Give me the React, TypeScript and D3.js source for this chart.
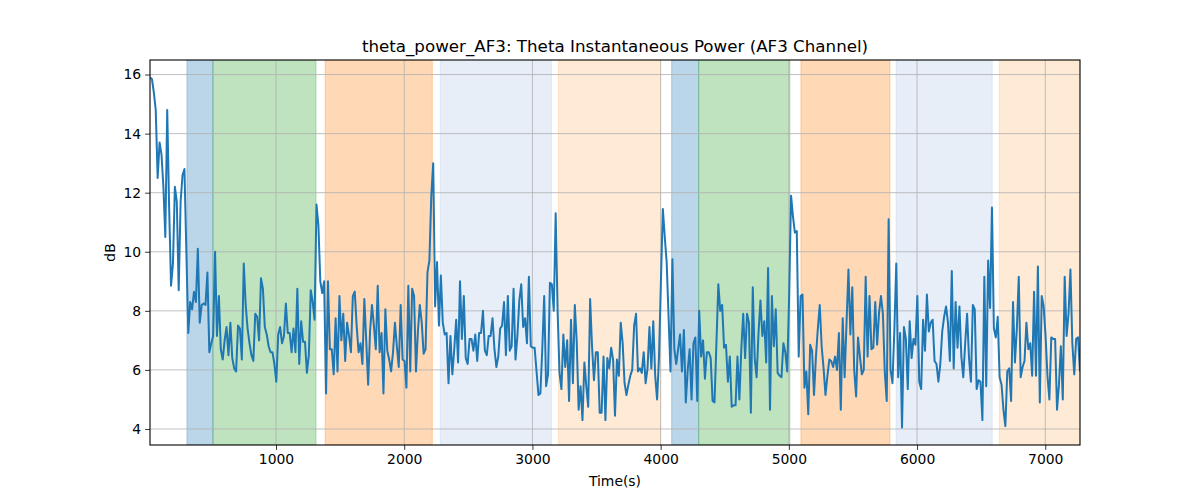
import { useEffect, useRef } from "react"
import * as d3 from "d3"

// theta power samples (dB), evenly spaced in time
const thetaPower: number[] = [
  // 0 - ~1800 s
  15.9, 15.85, 15.4, 14.8, 12.5, 13.7, 13.3, 12.2, 10.5, 14.8, 11.5, 8.85, 9.6, 12.2, 11.7, 8.7, 11.7, 12.6, 12.8, 10.0,
  7.25, 8.3, 8.05, 8.65, 8.3, 10.1, 7.6, 8.2, 8.25, 8.2, 9.3, 6.6, 6.9, 7.15, 10.0, 7.15, 8.5, 6.7, 6.35, 7.0,
  7.45, 6.5, 7.6, 6.4, 6.05, 5.95, 7.5, 7.4, 6.35, 9.6, 8.2, 7.4, 6.9, 6.5, 6.3, 7.9, 7.8, 7.0, 9.1, 8.75,
  7.45, 7.2, 6.8, 6.6, 6.6, 6.2, 5.6, 7.2, 7.45, 6.9, 7.15, 8.25, 7.25, 7.25, 6.6, 7.4, 6.6, 8.75, 6.2, 7.65,
  6.95, 6.95, 5.9, 6.5, 8.7, 8.3, 7.7, 11.6, 10.9, 9.0, 8.6, 9.0, 5.2, 9.0, 6.7, 6.7, 5.85, 7.75, 5.95, 8.5,
  7.0, 7.9, 6.3, 7.6, 7.15, 6.6, 8.5, 8.65, 7.5, 6.6, 6.9, 6.2, 8.4, 7.0, 5.5, 7.3, 8.2, 7.5, 6.7, 8.85,
  // ~1800 - 3600 s
  6.6, 7.25, 5.2, 8.05, 6.65, 6.35, 5.95, 6.6, 7.6, 6.8, 6.1, 8.2, 6.35, 6.3, 5.4, 8.85, 5.95, 8.75, 8.5, 5.95,
  7.3, 8.2, 7.6, 6.55, 6.7, 9.3, 9.7, 11.9, 13.0, 8.15, 9.65, 7.5, 9.2, 7.6, 7.2, 7.25, 5.55, 7.15, 5.85, 6.7,
  7.7, 6.25, 9.0, 7.05, 8.5, 6.4, 6.2, 7.05, 7.05, 6.65, 7.2, 6.3, 7.25, 7.25, 8.0, 6.65, 6.5, 7.15, 7.15, 7.75,
  6.7, 6.1, 6.45, 7.4, 7.5, 8.3, 6.5, 8.5, 6.65, 6.8, 8.75, 6.35, 7.15, 8.35, 8.9, 7.45, 7.75, 6.9, 9.15, 6.8,
  6.75, 6.75, 5.95, 5.15, 5.2, 6.7, 8.5, 5.45, 5.85, 8.95, 8.9, 8.0, 11.3, 8.0, 5.9, 5.35, 7.2, 6.1, 7.0, 4.95,
  7.7, 5.55, 8.2, 6.95, 4.65, 5.45, 4.3, 6.25, 5.45, 4.75, 8.4, 6.8, 5.65, 6.6, 6.6, 4.55, 4.55, 6.45, 4.3, 6.4,
  6.05,
  // ~3600 - 5400 s
  6.75, 6.35, 4.45, 6.35, 5.8, 7.6, 6.9, 5.55, 5.15, 5.5, 5.8, 6.0, 7.5, 7.9, 5.95, 6.05, 5.9, 6.6, 5.55, 6.05,
  7.45, 6.05, 7.65, 5.8, 5.0, 6.45, 9.0, 11.45, 10.5, 9.65, 7.8, 5.95, 9.75, 6.7, 6.2, 6.7, 7.2, 5.95, 7.35, 4.9,
  6.0, 6.7, 5.0, 6.9, 7.1, 4.95, 8.0, 6.45, 7.0, 5.7, 6.6, 6.6, 6.4, 4.95, 4.9, 6.9, 8.9, 8.0, 8.2, 6.75,
  6.85, 5.6, 6.45, 4.75, 4.8, 4.8, 6.45, 5.0, 6.7, 7.9, 6.4, 7.9, 7.6, 4.55, 8.8, 6.4, 5.75, 7.25, 8.35, 7.15,
  7.65, 6.25, 9.45, 4.65, 8.5, 6.8, 8.05, 5.9, 5.8, 5.75, 6.9, 6.6, 5.95, 8.5, 11.9, 11.2, 10.65, 10.7, 6.45, 8.5,
  8.55, 5.4, 5.95, 4.5, 6.85, 6.65, 5.15, 6.45, 7.4, 8.2, 6.8, 6.05, 5.15, 5.8, 6.35, 6.3, 6.1, 6.45, 6.0, 7.25,
  4.65,
  // ~5400 - end
  7.75, 5.75, 7.6, 9.4, 7.2, 8.8, 6.0, 5.1, 7.1, 6.45, 5.85, 6.0, 9.15, 6.45, 8.5, 6.7, 6.75, 8.3, 6.85, 7.95,
  8.5, 7.9, 5.9, 4.95, 11.1, 6.0, 5.55, 7.4, 9.6, 5.75, 7.25, 4.05, 7.45, 7.05, 5.35, 7.65, 6.4, 7.05, 6.85, 8.5,
  5.6, 5.35, 7.7, 6.65, 8.55, 7.3, 7.6, 7.7, 6.3, 6.2, 5.6, 6.2, 7.3, 7.8, 8.15, 7.6, 6.3, 9.35, 6.05, 8.3,
  6.75, 8.15, 6.45, 5.75, 6.9, 7.9, 6.4, 5.6, 8.2, 8.05, 5.35, 5.65, 5.6, 4.3, 9.15, 5.45, 9.7, 8.1, 11.5, 7.4,
  7.1, 7.8, 5.75, 5.5, 4.65, 4.1, 5.95, 6.05, 4.95, 8.3, 6.25, 7.4, 9.15, 5.75, 6.1, 6.3, 7.6, 6.7, 6.9, 5.8,
  8.65, 5.8, 9.5, 4.9, 8.5, 8.15, 7.15, 5.8, 5.0, 7.1, 7.05, 7.05, 4.65, 5.5, 6.8, 5.0, 9.15, 7.15, 7.9, 9.4,
  6.9, 5.85, 7.05, 7.1, 5.95,
]

const T_START = 17
const T_END = 7271

// shaded task segments [start, end] in seconds
const spanStarts = [305, 508, 1383, 2281, 3203, 4086, 4297, 5094, 5836, 6641]
const spanEnds = [508, 1312, 2219, 3148, 4000, 4297, 5008, 5789, 6586, 7271]
const spanColors = ["#1f77b4", "#2ca02c", "#ff7f0e", "#aec7e8", "#ffbb78", "#1f77b4", "#2ca02c", "#ff7f0e", "#aec7e8", "#ffbb78"]

const xTicks = [1000, 2000, 3000, 4000, 5000, 6000, 7000]
const yTicks = [4, 6, 8, 10, 12, 14, 16]

const TITLE = "theta_power_AF3: Theta Instantaneous Power (AF3 Channel)"

export default function App() {
  const svgRef = useRef<SVGSVGElement>(null)

  useEffect(() => {
    if (!svgRef.current) return

    const W = 1200
    const H = 500
    const margin = { top: 60, right: 120, bottom: 55, left: 150 }
    const width = W - margin.left - margin.right
    const height = H - margin.top - margin.bottom
    const font = "DejaVu Sans, sans-serif"

    d3.select(svgRef.current).selectAll("*").remove()

    const svg = d3
      .select(svgRef.current)
      .attr("width", W)
      .attr("height", H)

    const g = svg.append("g").attr("transform", `translate(${margin.left},${margin.top})`)

    const step = (T_END - T_START) / (thetaPower.length - 1)
    const series = thetaPower.map((v, i) => ({ t: T_START + i * step, v }))

    const x = d3.scaleLinear().domain([T_START, T_END]).range([0, width])
    const [vMin, vMax] = d3.extent(thetaPower) as [number, number]
    const pad = (vMax - vMin) * 0.05
    const y = d3.scaleLinear().domain([vMin - pad, vMax + pad]).range([height, 0])

    g.append("defs")
      .append("clipPath")
      .attr("id", "plot-clip")
      .append("rect")
      .attr("width", width)
      .attr("height", height)

    // shaded segments
    g.append("g")
      .attr("clip-path", "url(#plot-clip)")
      .selectAll("rect")
      .data(spanStarts.map((s, i) => ({ s, e: spanEnds[i], c: spanColors[i] })))
      .enter()
      .append("rect")
      .attr("x", (d) => x(d.s))
      .attr("y", 0)
      .attr("width", (d) => x(d.e) - x(d.s))
      .attr("height", height)
      .attr("fill", (d) => d.c)
      .attr("fill-opacity", 0.3)
      .attr("stroke", (d) => d.c)
      .attr("stroke-opacity", 0.3)
      .attr("stroke-width", 1)

    // grid
    const grid = g.append("g").attr("stroke", "#b0b0b0").attr("stroke-width", 0.8)
    xTicks.forEach((t) => {
      grid.append("line").attr("x1", x(t)).attr("x2", x(t)).attr("y1", 0).attr("y2", height)
    })
    yTicks.forEach((t) => {
      grid.append("line").attr("x1", 0).attr("x2", width).attr("y1", y(t)).attr("y2", y(t))
    })

    // theta power line
    const line = d3
      .line<{ t: number; v: number }>()
      .x((d) => x(d.t))
      .y((d) => y(d.v))

    g.append("path")
      .datum(series)
      .attr("clip-path", "url(#plot-clip)")
      .attr("fill", "none")
      .attr("stroke", "#1f77b4")
      .attr("stroke-width", 2)
      .attr("stroke-linejoin", "round")
      .attr("d", line)

    // axes
    const xAxis = g
      .append("g")
      .attr("transform", `translate(0,${height})`)
      .call(d3.axisBottom(x).tickValues(xTicks).tickSize(4.9).tickPadding(4).tickFormat(d3.format("d")))
    const yAxis = g
      .append("g")
      .call(d3.axisLeft(y).tickValues(yTicks).tickSize(4.9).tickPadding(4).tickFormat(d3.format("d")))

    ;[xAxis, yAxis].forEach((a) => {
      a.select(".domain").remove()
      a.selectAll("line").attr("stroke", "#000").attr("stroke-width", 0.8)
      a.selectAll("text").attr("fill", "#000").style("font-family", font).style("font-size", "13.9px")
    })

    // frame
    g.append("rect")
      .attr("width", width)
      .attr("height", height)
      .attr("fill", "none")
      .attr("stroke", "#000")
      .attr("stroke-width", 1.1)

    // labels
    svg.append("text")
      .attr("x", margin.left + width / 2)
      .attr("y", margin.top - 8.5)
      .attr("text-anchor", "middle")
      .style("font-family", font)
      .style("font-size", "16.7px")
      .text(TITLE)

    svg.append("text")
      .attr("x", margin.left + width / 2)
      .attr("y", 486)
      .attr("text-anchor", "middle")
      .style("font-family", font)
      .style("font-size", "13.9px")
      .text("Time(s)")

    svg.append("text")
      .attr("transform", `translate(115,${margin.top + height / 2}) rotate(-90)`)
      .attr("text-anchor", "middle")
      .style("font-family", font)
      .style("font-size", "13.9px")
      .text("dB")
  }, [])

  return (
    <div style={{ position: "absolute", left: 0, top: 0, background: "#fff" }}>
      <svg ref={svgRef} />
    </div>
  )
}
